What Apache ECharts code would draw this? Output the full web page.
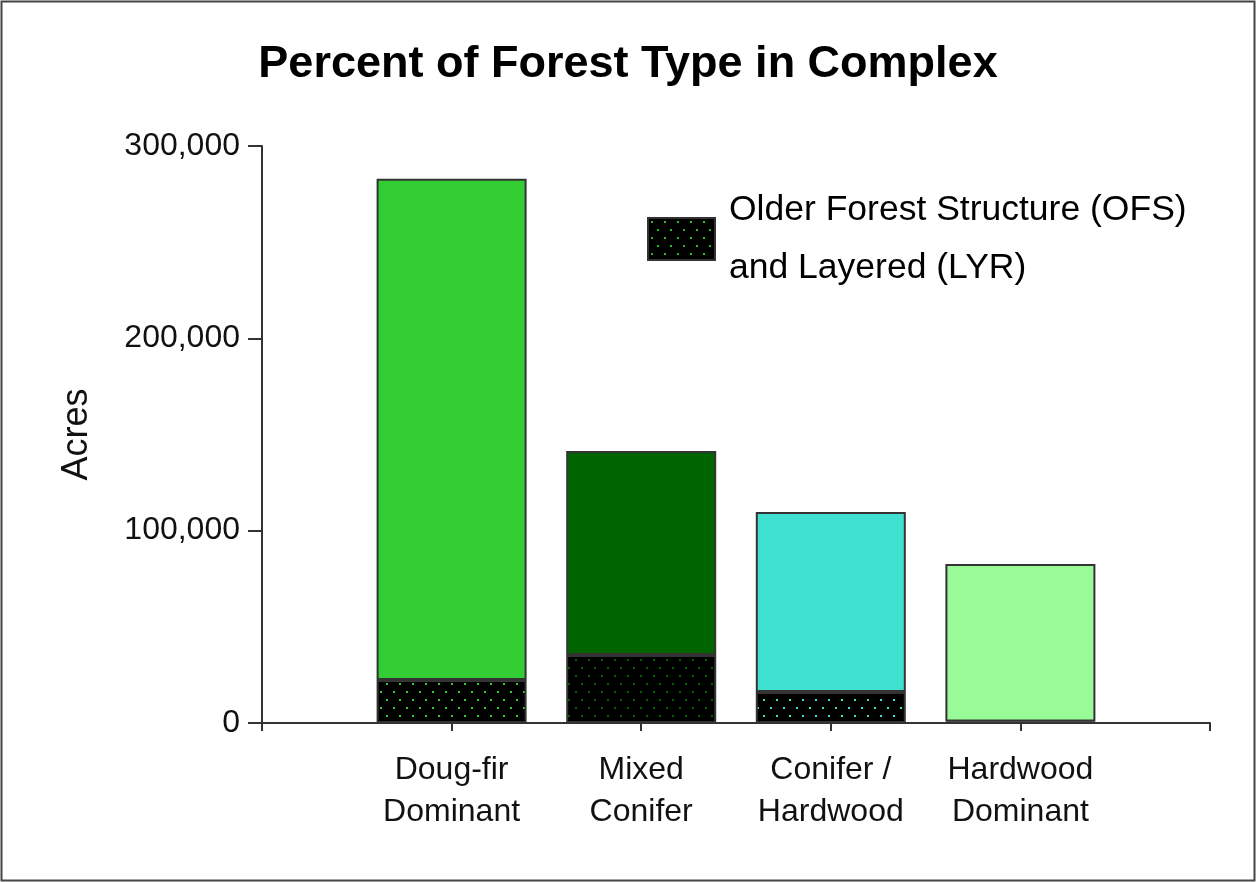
<!DOCTYPE html>
<html>
<head>
<meta charset="utf-8">
<script src="https://cdn.jsdelivr.net/npm/echarts@6/dist/echarts.min.js"></script>
<style>
  html, body { margin: 0; padding: 0; background: #fff; }
  #chart { width: 1256px; height: 882px; }
</style>
</head>
<body>
<div id="chart"></div>
<script>
// padded with empty slots so the bars sit on the inner ticks
const categories = ["", "Doug-fir\nDominant", "Mixed\nConifer", "Conifer /\nHardwood", "Hardwood\nDominant", ""];
const ofsAcres = [null, 22400, 35400, 16100, 800, null];
const otherAcres = [null, 260600, 106000, 93600, 81900, null];
const typeColors = [null, "#32cd32", "#006400", "#40e0d0", "#98fb98", null];
const yTicks = [0, 100000, 200000, 300000];

const FONT = "'Liberation Sans', Arial, sans-serif";

// black tile with staggered coloured dots
function dotPattern(dot) {
  const c = document.createElement("canvas");
  c.width = 13;
  c.height = 16;
  const ctx = c.getContext("2d");
  ctx.fillStyle = "#000";
  ctx.fillRect(0, 0, 13, 16);
  ctx.fillStyle = dot;
  ctx.fillRect(3, 3, 2, 2);
  ctx.fillRect(9, 11, 2, 2);
  return { image: c, repeat: "repeat" };
}

const chart = echarts.init(document.getElementById("chart"));

const border = { borderColor: "#333", borderWidth: 2 };

const options = {
  animation: false,
  title: {
    text: "Percent of Forest Type in Complex",
    left: "center",
    top: 37,
    textStyle: { fontFamily: FONT, fontSize: 45, fontWeight: "bold", color: "#000" },
  },
  legend: {
    left: 642,
    top: 176,
    orient: "vertical",
    icon: "rect",
    itemWidth: 67,
    itemHeight: 42,
    data: ["Older Forest Structure (OFS)\nand Layered (LYR)"],
    textStyle: { fontFamily: FONT, fontSize: 35.5, color: "#000", lineHeight: 58, padding: [0, 0, 0, 9] },
  },
  grid: { left: 262, right: 46, top: 146, bottom: 159 },
  xAxis: {
    type: "category",
    data: categories,
    boundaryGap: false,
    axisLine: { lineStyle: { color: "#333", width: 2 } },
    axisTick: { show: true, length: 8, lineStyle: { color: "#333", width: 2 } },
    axisLabel: {
      interval: 0,
      margin: 26,
      fontFamily: FONT,
      fontSize: 32,
      lineHeight: 42,
      color: "#111",
    },
  },
  yAxis: {
    type: "value",
    min: 0,
    max: 300000,
    interval: 100000,
    name: "Acres",
    nameLocation: "middle",
    nameGap: 167,
    nameRotate: 90,
    nameTextStyle: { fontFamily: FONT, fontSize: 36, color: "#111" },
    axisLine: { show: true, lineStyle: { color: "#333", width: 2 } },
    axisTick: { show: true, length: 14, lineStyle: { color: "#333", width: 2 } },
    splitLine: { show: false },
    axisLabel: {
      margin: 22,
      fontFamily: FONT,
      fontSize: 32,
      color: "#111",
      formatter: (v) => (yTicks.includes(v) ? v.toLocaleString("en-US") : ""),
    },
  },
  series: [
    {
      name: "Older Forest Structure (OFS)\nand Layered (LYR)",
      type: "bar",
      stack: "acres",
      barWidth: 150,
      itemStyle: Object.assign({ color: dotPattern("#22c422") }, border),
      data: ofsAcres.map((v, i) =>
        v == null ? null : { value: v, itemStyle: { color: dotPattern(typeColors[i]) } }
      ),
    },
    {
      name: "type",
      type: "bar",
      stack: "acres",
      barWidth: 150,
      itemStyle: border,
      data: otherAcres.map((v, i) =>
        v == null ? null : { value: v, itemStyle: { color: typeColors[i] } }
      ),
    },
  ],
  graphic: [
    {
      type: "rect",
      shape: { x: 1.5, y: 1.5, width: 1253, height: 879 },
      style: { fill: "none", stroke: "#444", lineWidth: 2 },
    },
  ],
};

chart.setOption(options);
</script>
</body>
</html>
